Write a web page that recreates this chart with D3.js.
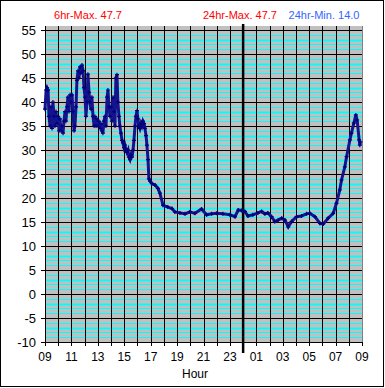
<!DOCTYPE html>
<meta charset="utf-8">
<style>
body { margin: 0; background: #fff; }
text { font-family: Arial, "Liberation Sans", sans-serif; }
.tick-label { font-size: 12px; fill: #000; }
</style>
<body>
<script src="https://d3js.org/d3.v7.min.js"></script>
<script>

var width = 385, height = 388;
var plotLeft = 45, plotRight = 362, plotTop = 26, plotBottom = 342;

// minutes after 09:00 and temperature readings
var minutes = [0,5,9,14,18,23,27,32,36,41,45,50,54,59,64,68,73,77,82,86,91,95,100,104,109,114,118,123,127,132,
  136,141,145,150,154,159,163,168,173,177,182,186,191,195,200,204,209,213,218,223,227,232,236,241,245,250,254,259,263,268,
  272,277,282,286,291,295,300,304,309,313,318,322,327,331,336,340,345,350,354,359,363,368,372,377,381,386,391,395,400,404,
  409,413,418,422,427,431,436,440,445,450,454,459,463,468,472,477,486,500,513,522,536,558,577,590,613,636,658,681,711,734,
  757,780,808,840,863,878,893,908,922,944,967,984,999,1012,1029,1044,1059,1075,1090,1105,1120,1143,1165,1188,1203,1226,1249,1264,1286,1309,
  1324,1339,1347,1362,1370,1385,1392,1403,1412,1418,1427,1430,1433];
var temps = [38.5,42.5,43,42.5,37,35,39,34.5,40,37,35,38,35.5,37,34,36.5,34,35,33.5,36,38,36,39,41,38,41.5,40,41.5,38,34,
  35,39,44.5,46.5,45,47.3,46,47.7,46.5,43,41,37,40,45.8,42,40,38.5,41,37,35,37,35,36.5,35,36,34.5,35.5,34,33.5,36,
  37,35,41,42.5,39,37,39,36,41,38,35,45,45.7,40,37,35,33.5,32,31.5,30.5,31,30,29.5,30,28.5,28,29,28.5,30,32,
  35,37,38.2,36.5,35,34.5,35.5,35,36,35.5,34.5,33,31,28,24,23.5,23,22.7,22,21,18.5,18.1,17.8,17.1,16.9,16.7,17.1,16.8,17.7,16.5,
  16.7,16.8,16.7,16.5,16.1,17.5,17.4,17.2,16.25,16.5,16.9,17.2,16.7,16.9,16.1,15.1,15.4,15.8,15.4,14.0,15.1,16.1,16.25,16.7,16.8,16.1,14.7,14.6,15.8,16.8,
  18.9,21.7,23.75,26.5,28.6,32.1,33.5,35.6,37.3,36.25,32.1,31,31.7];

var hourLabels = ["09","10","11","12","13","14","15","16","17","18","19","20","21","22","23","00","01","02","03","04","05","06","07","08","09"];
var yTicks = [-10,-5,0,5,10,15,20,25,30,35,40,45,50,55];
var titles = [
  {text: "6hr-Max. 47.7", x: 88, color: "#ff0000"},
  {text: "24hr-Max. 47.7", x: 240, color: "#ff0000"},
  {text: "24hr-Min. 14.0", x: 324, color: "#3366ff"}
];

var svg = d3.select("body").append("svg")
  .attr("width", width)
  .attr("height", height);

svg.append("rect")
  .attr("x", 0.5).attr("y", 0.5)
  .attr("width", width - 2).attr("height", height - 2)
  .attr("fill", "#fff").attr("stroke", "#000");

var x = d3.scaleLinear().domain([0, 1440]).range([plotLeft, plotRight]);
var y = d3.scaleLinear().domain([-10, 55]).range([plotBottom, 30]);

// plot area
svg.append("rect")
  .attr("x", plotLeft).attr("y", plotTop)
  .attr("width", plotRight - plotLeft).attr("height", plotBottom - plotTop)
  .attr("fill", "#c0c0c0");

// cyan minor lines every 1 degree
var minor = d3.range(-9, 56).filter(function(v){ return v % 5 != 0; });
svg.selectAll(".minor")
  .data(minor)
  .enter().append("line")
  .attr("x1", plotLeft).attr("x2", plotRight)
  .attr("y1", function(d){ return Math.round(y(d)) + 0.5; })
  .attr("y2", function(d){ return Math.round(y(d)) + 0.5; })
  .attr("stroke", "#00ffff")
  .attr("stroke-width", function(d){ return ((d % 5) + 5) % 5 == 3 ? 2 : 1; });

// black major lines every 5
svg.selectAll(".major")
  .data(yTicks)
  .enter().append("line")
  .attr("x1", plotLeft - 4).attr("x2", plotRight)
  .attr("y1", function(d){ return Math.round(y(d)) + 0.5; })
  .attr("y2", function(d){ return Math.round(y(d)) + 0.5; })
  .attr("stroke", "#000");

// vertical hour lines
svg.selectAll(".vline")
  .data(hourLabels)
  .enter().append("line")
  .attr("x1", function(d, i){ return Math.round(x(i * 60)) + 0.5; })
  .attr("x2", function(d, i){ return Math.round(x(i * 60)) + 0.5; })
  .attr("y1", plotTop).attr("y2", plotBottom + 4)
  .attr("stroke", "#000");

// right border
svg.append("line")
  .attr("x1", plotRight + 0.5).attr("x2", plotRight + 0.5)
  .attr("y1", plotTop).attr("y2", plotBottom)
  .attr("stroke", "#808080");

// midnight line
svg.append("line")
  .attr("x1", x(15 * 60)).attr("x2", x(15 * 60))
  .attr("y1", plotTop - 2).attr("y2", plotBottom + 11)
  .attr("stroke", "#000").attr("stroke-width", 2.5);

// y labels
svg.selectAll(".ylab")
  .data(yTicks)
  .enter().append("text")
  .attr("class", "tick-label")
  .attr("x", 36)
  .attr("y", function(d){ return y(d) + 4.5; })
  .attr("text-anchor", "end")
  .style("font-size", "13px")
  .text(function(d){ return d; });

// x labels every 2 hours
svg.selectAll(".xlab")
  .data(hourLabels.filter(function(d, i){ return i % 2 == 0; }))
  .enter().append("text")
  .attr("class", "tick-label")
  .attr("x", function(d, i){ return x(i * 120); })
  .attr("y", 361)
  .attr("text-anchor", "middle")
  .text(function(d){ return d; });

svg.append("text")
  .attr("x", 195).attr("y", 378)
  .attr("text-anchor", "middle")
  .style("font-size", "12px")
  .text("Hour");

svg.selectAll(".title")
  .data(titles)
  .enter().append("text")
  .attr("x", function(d){ return d.x; })
  .attr("y", 19)
  .attr("text-anchor", "middle")
  .style("font-size", "11px")
  .style("fill", function(d){ return d.color; })
  .text(function(d){ return d.text; });

// temperature series
var pts = minutes.map(function(m, i){ return [m, temps[i]]; });

var line = d3.line()
  .x(function(d){ return x(d[0]); })
  .y(function(d){ return y(d[1]); });

svg.append("path")
  .datum(pts)
  .attr("d", line)
  .attr("fill", "none")
  .attr("stroke", "#14148c")
  .attr("stroke-width", 3);

svg.selectAll(".mark")
  .data(pts)
  .enter().append("path")
  .attr("d", function(d){
    var px = x(d[0]), py = y(d[1]);
    return "M" + (px - 2) + "," + py + "H" + (px + 2) + "M" + px + "," + (py - 2) + "V" + (py + 2);
  })
  .attr("stroke", "#000080")
  .attr("stroke-width", 1.2);

</script>
</body>
